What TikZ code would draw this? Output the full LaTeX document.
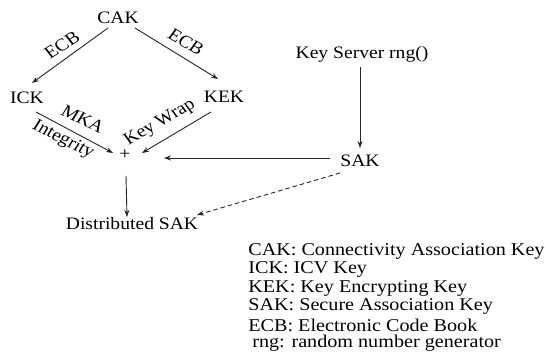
\documentclass[tikz,border=0pt]{standalone}
\usepackage{fontspec}
\setmainfont{Liberation Serif}
\usetikzlibrary{arrows.meta,calc}
\begin{document}
\begin{tikzpicture}[x=1pt,y=-1pt,
  lbl/.style={font=\fontsize{17.5}{19}\selectfont, inner sep=1pt, xscale=1.12, transform shape},
  arr/.style={draw=black!85, line width=0.9pt, -{Stealth[length=7pt,width=5pt]}},
  darr/.style={arr, dash pattern=on 4.5pt off 3pt},
  legend/.style={lbl, font=\fontsize{18}{19}\selectfont, anchor=west}]
\useasboundingbox (0,0) rectangle (546,352);
\fill[white] (0,0) rectangle (546,352);

% key nodes
\node[lbl] (CAK) at (118,18) {CAK};
\node[lbl] (ICK) at (27,98) {ICK};
\node[lbl] (KEK) at (224,97) {KEK};
\node[lbl] (plus) at (125,155) {+};
\node[lbl] (KS) at (362,54) {Key Server rng()};
\node[lbl] (SAK) at (360,161) {SAK};
\node[lbl] (dist) at (132,224) {Distributed SAK};

% edge labels
\node[lbl, rotate=35] (ecbL) at (62,45) {ECB};
\node[lbl, rotate=-33] (ecbR) at (186,42) {ECB};
\node[lbl, rotate=-29] (mka) at (83,119) {MKA};
\node[lbl, rotate=-29] (integ) at (63,140) {Integrity};
\node[lbl, rotate=33] (kw) at (160,123) {Key Wrap};

% connectors
\draw[arr] ($(CAK)+(-10,10)$) -- ($(ICK)+(5,-15)$);
\draw[arr] ($(CAK)+(17,10)$) -- ($(KEK)+(-6,-18)$);
\draw[arr] ($(ICK)+(9,14)$) -- ($(plus)+(-12,-2)$);
\draw[arr] ($(KEK)+(-13,15)$) -- ($(plus)+(17,-2)$);
\draw[arr] ($(SAK)+(-30,-3)$) -- ($(plus)+(39,3)$);
\draw[arr] ($(KS)+(-2,13)$) -- ($(SAK)+(0,-13)$);
\draw[arr] ($(plus)+(1,21)$) -- ($(dist)+(-5,-7)$);
\draw[darr] ($(SAK)+(-20,12)$) -- ($(dist)+(65,-9)$);

% legend
\node[legend] (l1) at (247,251) {CAK: Connectivity Association Key};
\node[legend] (l2) at (247,269) {ICK: ICV Key};
\node[legend] (l3) at (247,288) {KEK: Key Encrypting Key};
\node[legend] (l4) at (247,306) {SAK: Secure Association Key};
\node[legend] (l5) at (247,325) {ECB: Electronic Code Book};
\node[legend] (l6) at (251,343) {rng: random number generator};
\end{tikzpicture}
\end{document}
